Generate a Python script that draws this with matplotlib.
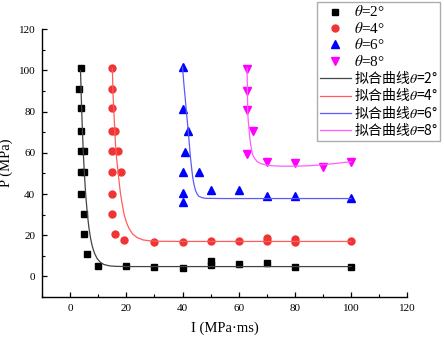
import matplotlib
import matplotlib.pyplot as plt
from matplotlib.ticker import MultipleLocator

matplotlib.use('Agg')

plt.rcParams['mathtext.fontset'] = 'stix'
plt.rcParams['font.family'] = ['Liberation Serif', 'DejaVu Serif']

# --- measured points ---
i2 = [4, 3, 4, 4, 4, 5, 4, 5, 4, 5, 5, 6, 10, 20, 30, 40, 50, 50, 60, 70, 80, 100]
p2 = [101, 91, 81.5, 70.5, 60.8, 60.8, 50.6, 50.6, 40.2, 30.5, 20.4, 10.7, 4.9, 4.9, 4.7, 4.0, 7.3, 5.5, 6.2, 6.6, 4.5, 4.7]

i4 = [15, 15, 15, 15, 16, 15, 17, 15, 18, 15, 15, 16, 19, 30, 40, 50, 60, 70, 70, 80, 80, 100]
p4 = [101, 91, 81.5, 70.5, 70.5, 60.8, 60.8, 50.6, 50.6, 40.2, 30.5, 20.4, 17.8, 16.7, 16.5, 17, 17.2, 18.5, 17, 18, 16.5, 17]

i6 = [40, 40, 42, 41, 40, 46, 40, 40, 50, 60, 70, 80, 100]
p6 = [101.5, 81, 70.7, 60.5, 50.9, 50.9, 40.5, 36, 41.8, 42.1, 38.9, 38.9, 37.9]

i8 = [63, 63, 63, 65, 63, 70, 80, 90, 100]
p8 = [100.6, 90.1, 80.7, 70.7, 59.6, 55.3, 54.8, 53.2, 55.4]

# --- fitted curves ---
fit2_i = [3.65, 4.0, 4.3, 4.6, 4.85, 5.3, 5.6, 6.1, 6.6, 7.2, 7.8, 8.6, 9.6, 10.8, 12, 14, 16, 20, 100]
fit2_p = [100, 83.7, 72, 61.8, 54.6, 43.8, 38, 30.2, 24.1, 18.8, 14.9, 11.4, 8.6, 6.8, 5.8, 5.15, 4.92, 4.81, 4.8]

fit4_i = [15.0, 15.2, 15.5, 15.8, 16.1, 16.5, 17.0, 17.5, 17.9, 18.5, 19.1, 20.0, 20.9, 22.2, 23.8, 26, 28.6, 32, 40, 100]
fit4_p = [101, 90, 80.7, 73, 64.5, 57.5, 51, 44.7, 40.2, 35.2, 30.5, 26.3, 23.4, 20.6, 18.9, 17.7, 17.25, 17.06, 17.0, 17.0]

fit6_i = [40.0, 40.5, 41.0, 41.5, 42.0, 42.4, 42.8, 43.2, 43.6, 44.1, 44.6, 45.2, 45.8, 47, 48.1, 55, 100]
fit6_p = [101.5, 93, 85.6, 78, 71, 64.5, 58, 53, 48.3, 44.5, 41.8, 40, 38.9, 38.2, 37.9, 37.8, 37.8]

fit8_i = [63.0, 63.1, 63.2, 63.4, 63.6, 63.9, 64.2, 64.6, 65.0, 65.7, 66.5, 67.8, 69.5, 72, 75, 80, 85, 90, 95, 100]
fit8_p = [101, 90, 80, 75.5, 72.5, 68, 64.5, 61.3, 59, 57.2, 55.8, 54.8, 54.1, 53.7, 53.5, 53.5, 53.7, 54.2, 54.9, 55.7]

angles = ['2', '4', '6', '8']

fig = plt.figure(figsize=(4.44, 3.38), dpi=100)
ax = fig.add_axes([0.095, 0.121, 0.822, 0.793])

m2, = ax.plot(i2, p2, 's', color='black', ms=4.5, ls='none')
m4, = ax.plot(i4, p4, 'o', color='#F03434', ms=5, ls='none')
m6, = ax.plot(i6, p6, '^', color='#0000FF', ms=5.5, ls='none')
m8, = ax.plot(i8, p8, 'v', color='#FF00FF', ms=5.5, ls='none')

l2, = ax.plot(fit2_i, fit2_p, color='#444444', lw=0.9)
l4, = ax.plot(fit4_i, fit4_p, color='#FF5C5C', lw=0.9)
l6, = ax.plot(fit6_i, fit6_p, color='#5A5AFF', lw=0.9)
l8, = ax.plot(fit8_i, fit8_p, color='#FF5CFF', lw=0.9)

ax.set_xlim(-10, 120)
ax.set_ylim(-10, 120)
ax.xaxis.set_major_locator(MultipleLocator(20))
ax.xaxis.set_minor_locator(MultipleLocator(10))
ax.yaxis.set_major_locator(MultipleLocator(20))
ax.yaxis.set_minor_locator(MultipleLocator(10))
ax.tick_params(which='major', direction='in', length=3.5, width=0.9, labelsize=8, pad=5)
ax.tick_params(which='minor', direction='in', length=2, width=0.8)
ax.spines['top'].set_visible(False)
ax.spines['right'].set_visible(False)
for s in ('left', 'bottom'):
    ax.spines[s].set_linewidth(1.0)

ax.set_xlabel('I (MPa·ms)', fontsize=10.5, labelpad=6)
ax.set_ylabel('P (MPa)', fontsize=10.5, labelpad=4)

handles = [m2, m4, m6, m8, l2, l4, l6, l8]
labels = [r'$\theta$=%s°' % a for a in angles] + [r'拟合曲线$\theta$=%s°' % a for a in angles]
leg = fig.legend(handles, labels, loc='upper right', bbox_to_anchor=(0.992, 0.995),
                 prop={'family': ['Noto Sans CJK SC', 'Liberation Serif'], 'size': 10},
                 frameon=True, fancybox=False, borderpad=0.2, handlelength=2.3,
                 handletextpad=0.15, labelspacing=0.1, borderaxespad=0)
for t in leg.get_texts()[:4]:
    t.set_fontfamily('Liberation Serif')
    t.set_fontsize(11)
leg.get_frame().set_edgecolor('#999999')
leg.get_frame().set_linewidth(1.0)

fig.savefig('out.png', dpi=100)
